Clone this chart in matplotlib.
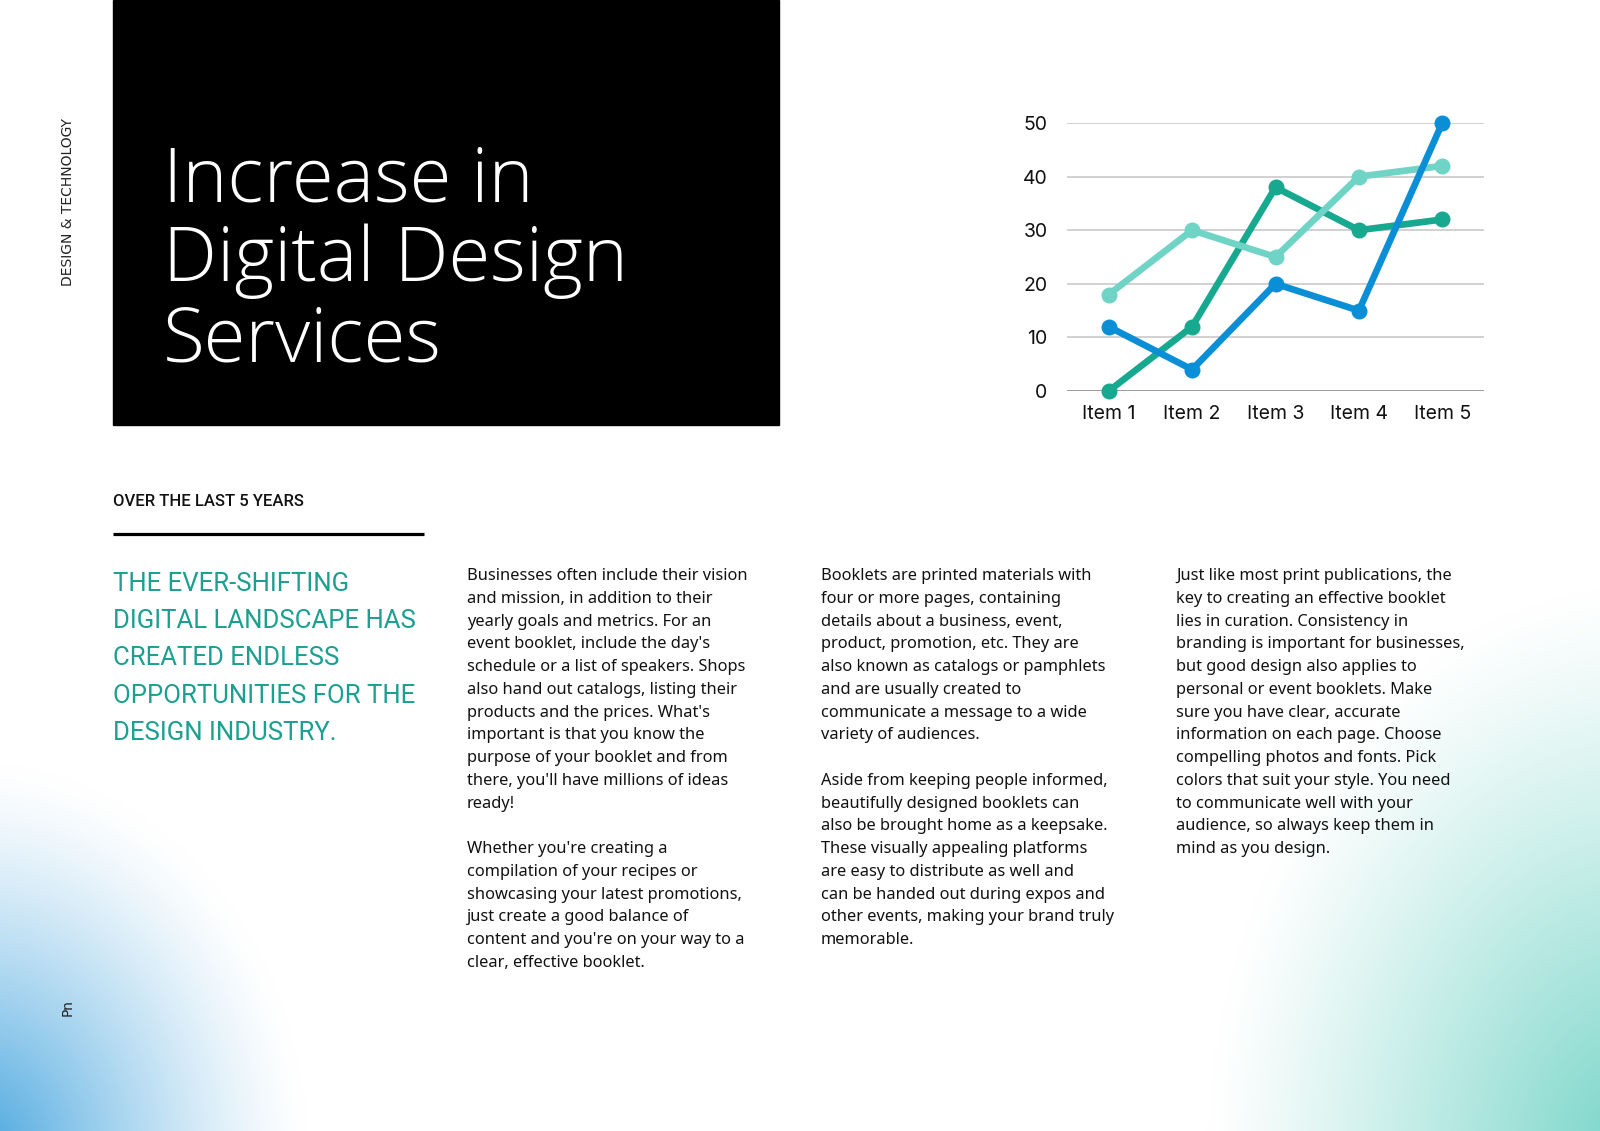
import matplotlib
matplotlib.use("Agg")
import matplotlib.pyplot as plt
import numpy as np
from matplotlib import font_manager
from matplotlib.patches import Rectangle

W, H = 1600, 1131

# ---------------- data ----------------
items = ["Item 1", "Item 2", "Item 3", "Item 4", "Item 5"]
dark_teal = [0, 12, 38, 30, 32]
light_teal = [18, 30, 25, 40, 42]
blue = [12, 4, 20, 15, 50]
y_ticks = [0, 10, 20, 30, 40, 50]

title_lines = ["Increase in", "Digital Design", "Services"]
side_label = "DESIGN & TECHNOLOGY"
page_label = "Pn"
kicker = "OVER THE LAST 5 YEARS"
lead_lines = ["THE EVER-SHIFTING", "DIGITAL LANDSCAPE HAS", "CREATED ENDLESS",
              "OPPORTUNITIES FOR THE", "DESIGN INDUSTRY."]

col1 = ["Businesses often include their vision",
        "and mission, in addition to their",
        "yearly goals and metrics. For an",
        "event booklet, include the day's",
        "schedule or a list of speakers. Shops",
        "also hand out catalogs, listing their",
        "products and the prices. What's",
        "important is that you know the",
        "purpose of your booklet and from",
        "there, you'll have millions of ideas",
        "ready!",
        "",
        "Whether you're creating a",
        "compilation of your recipes or",
        "showcasing your latest promotions,",
        "just create a good balance of",
        "content and you're on your way to a",
        "clear, effective booklet."]
col2 = ["Booklets are printed materials with",
        "four or more pages, containing",
        "details about a business, event,",
        "product, promotion, etc. They are",
        "also known as catalogs or pamphlets",
        "and are usually created to",
        "communicate a message to a wide",
        "variety of audiences.",
        "",
        "Aside from keeping people informed,",
        "beautifully designed booklets can",
        "also be brought home as a keepsake.",
        "These visually appealing platforms",
        "are easy to distribute as well and",
        "can be handed out during expos and",
        "other events, making your brand truly",
        "memorable."]
col3 = ["Just like most print publications, the",
        "key to creating an effective booklet",
        "lies in curation. Consistency in",
        "branding is important for businesses,",
        "but good design also applies to",
        "personal or event booklets. Make",
        "sure you have clear, accurate",
        "information on each page. Choose",
        "compelling photos and fonts. Pick",
        "colors that suit your style. You need",
        "to communicate well with your",
        "audience, so always keep them in",
        "mind as you design."]

# ---------------- fonts ----------------
installed = {f.name for f in font_manager.fontManager.ttflist}


def pick(*cands):
    for c in cands:
        if c in installed:
            return c
    return "DejaVu Sans"


title_font = pick("Open Sans", "Roboto", "Lato")
body_font = pick("Noto Sans", "Lato", "Open Sans")
head_font = pick("Roboto", "Inter", "Noto Sans")
chart_font = pick("Inter", "Lato", "Noto Sans")

teal_text = "#1a9f90"

fig = plt.figure(figsize=(W / 100, H / 100), dpi=100)
bg = fig.add_axes([0, 0, 1, 1])
bg.set_xlim(0, W)
bg.set_ylim(H, 0)
bg.axis("off")

# soft corner glows
gx, gy = np.meshgrid(np.linspace(0, W, 400), np.linspace(0, H, 283))
img = np.ones((gy.shape[0], gy.shape[1], 3))


def glow(cx, cy, rx, ry, rgb, power):
    d = np.sqrt(((gx - cx) / rx) ** 2 + ((gy - cy) / ry) ** 2)
    a = np.clip(1 - d, 0, 1) ** power
    return a[..., None], np.array(rgb)


for args in [(-30, H + 30, 335, 395, (0.26, 0.64, 0.87), 1.3),
             (W + 40, H + 40, 430, 580, (0.45, 0.83, 0.78), 1.15)]:
    a, c = glow(*args)
    img = img * (1 - a) + c * a
bg.imshow(img, extent=[0, W, H, 0], interpolation="bilinear", aspect="auto", zorder=0)

# black title block
bg.add_patch(Rectangle((113, 0), 666, 425, color="black", zorder=1))
for i, line in enumerate(title_lines):
    bg.text(163, 201 + i * 80, line, color="white", fontsize=55, family=title_font,
            weight="light", va="baseline", ha="left", zorder=2)

bg.text(68, 202, side_label, rotation=90, fontsize=10, family="DejaVu Sans",
        ha="center", va="center", color="#222222")
bg.text(68, 1008, page_label, rotation=90, fontsize=10, family="DejaVu Sans",
        ha="center", va="center", color="#222222")

bg.text(113, 506, kicker, fontsize=12, family=head_font, weight="medium",
        va="baseline", color="#111111")
bg.plot([113, 424], [534, 534], color="black", lw=2.3, solid_capstyle="butt")

for i, line in enumerate(lead_lines):
    bg.text(113, 591 + i * 37.2, line, fontsize=18.5, family=head_font, weight="normal",
            va="baseline", color=teal_text)

for x0, col in [(467, col1), (821, col2), (1176, col3)]:
    for i, line in enumerate(col):
        bg.text(x0, 580 + i * 22.76, line, fontsize=11.8, family=body_font,
                va="baseline", color="#111111")

# ---------------- line chart ----------------
ax = fig.add_axes([1067 / W, 1 - 391 / H, (1484 - 1067) / W, (391 - 123) / H])
ax.patch.set_alpha(0)
for s in ax.spines.values():
    s.set_visible(False)
ax.set_xlim(-0.5, 4.5)
ax.set_ylim(0, 50)
ax.set_yticks(y_ticks)
ax.set_yticklabels([str(v) for v in y_ticks])
for v in y_ticks:
    ax.axhline(v, color="#8a8a8a" if v == 0 else "#c9c9c9", lw=1.2, zorder=1)

for vals, col in [(dark_teal, "#17a98f"), (light_teal, "#6fd4c6"), (blue, "#0a8fd6")]:
    ax.plot(items, vals, color=col, lw=4.8, marker="o", markersize=10.5,
            solid_capstyle="round", clip_on=False, zorder=3)

ax.tick_params(length=0, labelsize=14)
ax.tick_params(axis="y", pad=14)
ax.tick_params(axis="x", pad=10)
for lab in ax.get_xticklabels() + ax.get_yticklabels():
    lab.set_family(chart_font)
    lab.set_color("#111111")

fig.savefig("out.png", dpi=100)
